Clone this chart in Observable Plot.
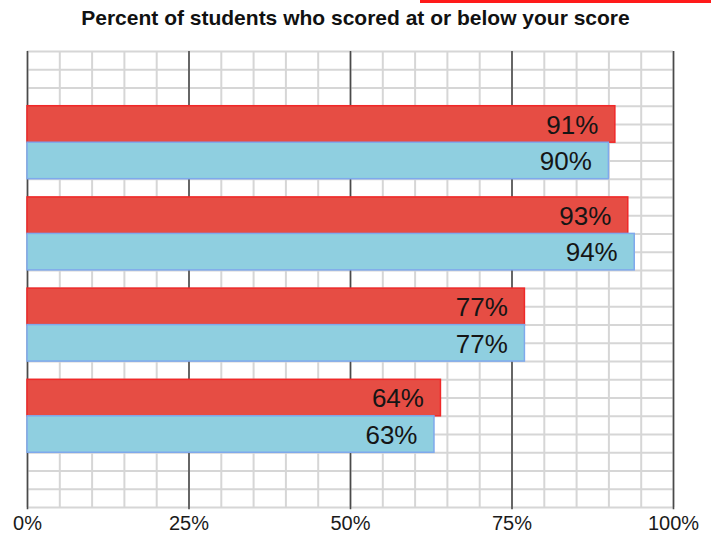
<!DOCTYPE html>
<html>
<head>
<meta charset="utf-8">
<script src="https://cdn.jsdelivr.net/npm/d3@7"></script>
<script src="https://cdn.jsdelivr.net/npm/@observablehq/plot@0.6"></script>
<style>
  html, body { margin: 0; padding: 0; background: #fff; }
  #wrap { position: relative; width: 711px; height: 533px; overflow: hidden; font-family: "Liberation Sans", Arial, sans-serif; }
  #topline { position: absolute; left: 420px; top: 0; width: 291px; height: 3px; background: #ff1a1a; }
  #title { position: absolute; left: 0; top: 6px; width: 711px; text-align: center; font-weight: bold; font-size: 21px; color: #111; }
  #chart { position: absolute; left: 0; top: 40px; }
</style>
</head>
<body>
<div id="wrap">
  <div id="topline"></div>
  <div id="title">Percent of students who scored at or below your score</div>
  <div id="chart"></div>
</div>
<script>
// Data
const groups = ["A", "B", "C", "D"];
const redValues = [91, 93, 77, 64];
const blueValues = [90, 94, 77, 63];
const tickValues = [0, 25, 50, 75, 100];
const tickLabels = ["0%", "25%", "50%", "75%", "100%"];

// Layout in grid rows: 3 empty rows on top, each group 4 rows (2 per bar), 1 row gap, 3 rows at bottom
const ROWS = 25;
const rows = [];
groups.forEach((g, i) => {
  const base = 3 + 5 * i;
  rows.push({group: g, series: "red", value: redValues[i], y1: base, y2: base + 2});
  rows.push({group: g, series: "blue", value: blueValues[i], y1: base + 2, y2: base + 4});
});

const minor = d3.range(0, 101, 5);
const hlines = d3.range(0, ROWS + 1);

const plot = Plot.plot({
  width: 711,
  height: 493,
  marginTop: 11,
  marginBottom: 26,
  marginLeft: 27,
  marginRight: 38,
  style: {fontFamily: "Liberation Sans, Arial, sans-serif", background: "transparent"},
  x: {domain: [0, 100], axis: null},
  y: {domain: [0, ROWS], reverse: true, axis: null},
  marks: [
    Plot.ruleX(minor, {x: d => d, y1: 0, y2: ROWS, stroke: "#d6d6d6", strokeWidth: 2}),
    Plot.ruleY(hlines, {y: d => d, x1: 0, x2: 100, stroke: "#d6d6d6", strokeWidth: 2}),
    Plot.ruleX(tickValues, {x: d => d, y1: 0, y2: ROWS + 0.12, stroke: "#4a4a4a", strokeWidth: 1.6}),
    Plot.rectX(rows, {
      x1: 0, x2: "value", y1: "y1", y2: "y2",
      fill: d => d.series === "red" ? "#e64d44" : "#8fcfe0",
      stroke: d => d.series === "red" ? "#f02828" : "#7fa9ec",
      strokeWidth: 1.5
    }),
    Plot.text(rows, {
      x: "value", y: d => (d.y1 + d.y2) / 2,
      text: d => d.value + "%",
      textAnchor: "end", dx: -17, dy: 1,
      fontSize: 26, fill: "#151515"
    }),
    Plot.text(tickValues, {
      x: d => d, y: ROWS, text: (d, i) => tickLabels[i],
      dy: 16, fontSize: 20, fill: "#1a1a1a", lineAnchor: "middle"
    })
  ]
});
document.getElementById("chart").appendChild(plot);
</script>
</body>
</html>
